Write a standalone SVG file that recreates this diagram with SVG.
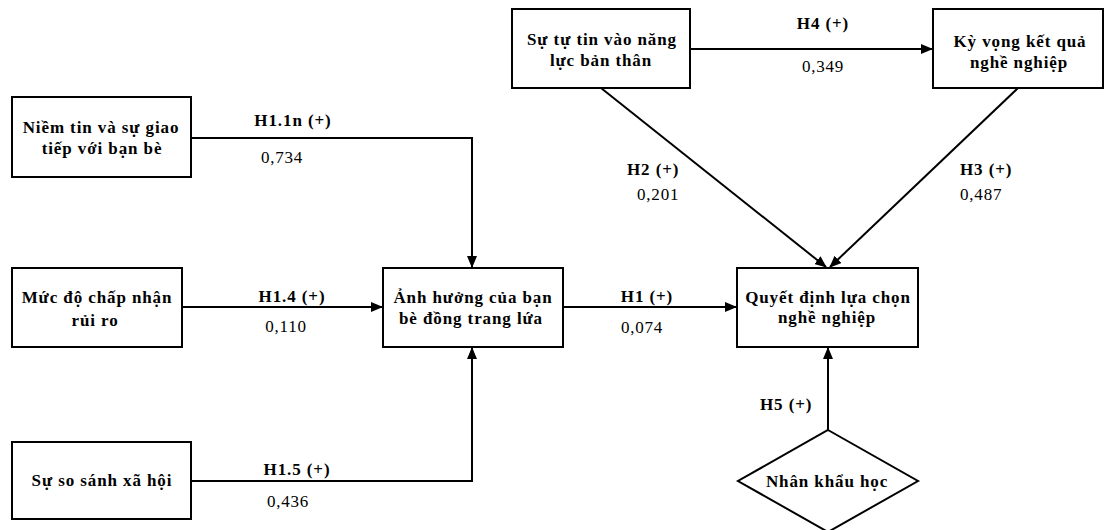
<svg xmlns="http://www.w3.org/2000/svg" width="1109" height="530" viewBox="0 0 1109 530">
<style>
.box{fill:#fff;stroke:#000;stroke-width:2}
.t{font-family:"Liberation Serif","Times New Roman",serif;font-size:17px;font-weight:bold;letter-spacing:0.9px;text-anchor:middle;fill:#000}
.lb{font-family:"Liberation Serif","Times New Roman",serif;font-size:17px;font-weight:bold;letter-spacing:0.9px;fill:#000}
.n{font-family:"Liberation Serif","Times New Roman",serif;font-size:17px;letter-spacing:0.8px;fill:#000}
.m{text-anchor:middle}
.c{fill:none;stroke:#000;stroke-width:2}
</style>
<defs>
<marker id="ah" markerWidth="12" markerHeight="10" refX="11" refY="5" orient="auto" markerUnits="userSpaceOnUse">
<path d="M0,0 L12,5 L0,10 Z" fill="#000"/>
</marker>
</defs>
<rect width="1109" height="530" fill="#fff"/>
<g id="connectors">
<polyline class="c" points="191,138 472,138 472,267" marker-end="url(#ah)"/>
<line class="c" x1="182" y1="307" x2="382" y2="307" marker-end="url(#ah)"/>
<polyline class="c" points="191,481 472,481 472,348" marker-end="url(#ah)"/>
<line class="c" x1="563" y1="307" x2="736" y2="307" marker-end="url(#ah)"/>
<line class="c" x1="690" y1="49" x2="932" y2="49" marker-end="url(#ah)"/>
<line class="c" x1="601" y1="88" x2="826" y2="267" marker-end="url(#ah)"/>
<line class="c" x1="1018" y1="88" x2="830" y2="267" marker-end="url(#ah)"/>
<line class="c" x1="828" y1="430" x2="828" y2="348" marker-end="url(#ah)"/>
<text class="t" x="293" y="126">H1.1n (+)</text>
<text class="n m" x="282" y="163">0,734</text>
<text class="t" x="292" y="302">H1.4 (+)</text>
<text class="n m" x="286" y="332">0,110</text>
<text class="t" x="297" y="475">H1.5 (+)</text>
<text class="n m" x="288" y="507">0,436</text>
<text class="t" x="647" y="302">H1 (+)</text>
<text class="n m" x="642" y="333">0,074</text>
<text class="t" x="823" y="29">H4 (+)</text>
<text class="n m" x="823" y="72">0,349</text>
<text class="lb" x="627" y="175">H2 (+)</text>
<text class="n" x="637" y="200">0,201</text>
<text class="lb" x="960" y="175">H3 (+)</text>
<text class="n" x="960" y="200">0,487</text>
<text class="lb" x="760" y="410">H5 (+)</text>
</g>
<g id="n-niemtin">
<rect class="box" x="12" y="97" width="179" height="80"/>
<text class="t" x="101" y="133">Niềm tin và sự giao</text>
<text class="t" x="102" y="154">tiếp với bạn bè</text>
</g>
<g id="n-mucdo">
<rect class="box" x="12" y="268" width="170" height="79"/>
<text class="t" x="97" y="303">Mức độ chấp nhận</text>
<text class="t" x="95" y="326">rủi ro</text>
</g>
<g id="n-sosanh">
<rect class="box" x="12" y="442" width="179" height="77"/>
<text class="t" x="102" y="486">Sự so sánh xã hội</text>
</g>
<g id="n-anhhuong">
<rect class="box" x="383" y="268" width="180" height="79"/>
<text class="t" x="473" y="303">Ảnh hưởng của bạn</text>
<text class="t" x="471" y="324">bè đồng trang lứa</text>
</g>
<g id="n-quyetdinh">
<rect class="box" x="737" y="268" width="181" height="79"/>
<text class="t" x="828" y="303">Quyết định lựa chọn</text>
<text class="t" x="827" y="323">nghề nghiệp</text>
</g>
<g id="n-tutin">
<rect class="box" x="512" y="9" width="178" height="79"/>
<text class="t" x="602" y="45">Sự tự tin vào năng</text>
<text class="t" x="601" y="66">lực bản thân</text>
</g>
<g id="n-kyvong">
<rect class="box" x="933" y="9" width="170" height="79"/>
<text class="t" x="1020" y="47">Kỳ vọng kết quả</text>
<text class="t" x="1019" y="68">nghề nghiệp</text>
</g>
<g id="n-nhankhau">
<polygon class="box" points="828,430 918,481 828,532 738,481"/>
<text class="t" x="827" y="487">Nhân khẩu học</text>
</g>
</svg>
